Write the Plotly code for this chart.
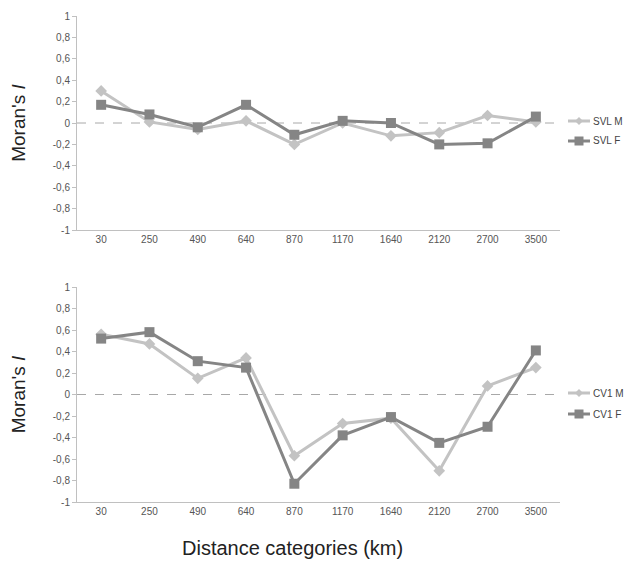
import plotly.graph_objects as go

categories = ["30", "250", "490", "640", "870", "1170", "1640", "2120", "2700", "3500"]
svl_m = [0.30, 0.01, -0.06, 0.02, -0.20, 0.00, -0.12, -0.09, 0.07, 0.01]
svl_f = [0.17, 0.08, -0.04, 0.17, -0.11, 0.02, 0.00, -0.20, -0.19, 0.06]
cv1_m = [0.56, 0.47, 0.15, 0.34, -0.57, -0.27, -0.22, -0.71, 0.08, 0.25]
cv1_f = [0.52, 0.58, 0.31, 0.25, -0.83, -0.38, -0.21, -0.45, -0.30, 0.41]
y_ticks = [1, 0.8, 0.6, 0.4, 0.2, 0, -0.2, -0.4, -0.6, -0.8, -1]
y_tick_labels = ["1", "0,8", "0,6", "0,4", "0,2", "0", "-0,2", "-0,4", "-0,6", "-0,8", "-1"]

LIGHT = "#c3c3c3"
DARK = "#858585"
OFF = 8  # page body margin
W, H = 632 - 2 * OFF, 568 - 2 * OFF

def px(x):
    return (x - OFF) / W

def py(y):
    return 1 - (y - OFF) / H

fig = go.Figure()

def add(name, vals, color, symbol, size, xa, ya):
    fig.add_trace(go.Scatter(
        x=categories, y=vals, name=name, mode="lines+markers",
        line=dict(color=color, width=3),
        marker=dict(symbol=symbol, size=size, color=color),
        xaxis=xa, yaxis=ya, showlegend=False))

add("SVL M", svl_m, LIGHT, "diamond", 9, "x", "y")
add("SVL F", svl_f, DARK, "square", 10, "x", "y")
add("CV1 M", cv1_m, LIGHT, "diamond", 9, "x2", "y2")
add("CV1 F", cv1_f, DARK, "square", 10, "x2", "y2")

xd = [px(77), px(560)]
top_d = [py(230), py(16)]
bot_d = [py(502), py(287)]

tickfont = dict(family="Liberation Sans, Arial", size=10, color="#555555")
xcommon = dict(type="category", range=[-0.5, 9.5], showline=True, linecolor="#c0c0c0",
               linewidth=1, showgrid=False, ticks="", tickfont=tickfont, zeroline=False)
ycommon = dict(range=[-1, 1], tickvals=y_ticks, ticktext=y_tick_labels, showline=True,
               linecolor="#c0c0c0", linewidth=1, showgrid=False, ticks="outside", ticklen=4,
               tickcolor="#c0c0c0", tickfont=tickfont, zeroline=False,
               title=dict(text="Moran's <i>I</i>", standoff=22,
                          font=dict(family="Liberation Sans, Arial", size=19, color="#222222")))

shapes = [
    dict(type="line", xref="x domain", yref="y", x0=0, x1=1, y0=0, y1=0,
         line=dict(color="#a8a8a8", width=1, dash="dash"), layer="below"),
    dict(type="line", xref="x2 domain", yref="y2", x0=0, x1=1, y0=0, y1=0,
         line=dict(color="#a8a8a8", width=1, dash="dash"), layer="below"),
]
annotations = [dict(text="Distance categories (km)", x=px(292), y=py(548),
                    xref="paper", yref="paper", showarrow=False, xanchor="center",
                    yanchor="middle",
                    font=dict(family="Liberation Sans, Arial", size=20, color="#222222"))]

# manual legends (line sample + marker + label)
LX = 568  # left end of legend line sample (page px)
LL = 22   # legend line sample length
legend_items = [("SVL M", LIGHT, "diamond", 121), ("SVL F", DARK, "square", 141),
                ("CV1 M", LIGHT, "diamond", 393), ("CV1 F", DARK, "square", 414)]
for label, color, sym, yy in legend_items:
    shapes.append(dict(type="line", xref="paper", yref="paper", x0=px(LX), x1=px(LX + LL),
                       y0=py(yy), y1=py(yy), line=dict(color=color, width=3)))
    cx, cy = LX + LL / 2, yy
    if sym == "square":
        shapes.append(dict(type="rect", xref="paper", yref="paper",
                           x0=px(cx - 4.5), x1=px(cx + 4.5), y0=py(cy + 4.5), y1=py(cy - 4.5),
                           fillcolor=color, line=dict(width=0)))
    else:
        path = (f"M {px(cx - 4)},{py(cy)} L {px(cx)},{py(cy - 4)} "
                f"L {px(cx + 4)},{py(cy)} L {px(cx)},{py(cy + 4)} Z")
        shapes.append(dict(type="path", xref="paper", yref="paper", path=path,
                           fillcolor=color, line=dict(width=0)))
    annotations.append(dict(text=label, x=px(LX + LL + 1), y=py(yy), xref="paper",
                            yref="paper", showarrow=False, xanchor="left", yanchor="middle",
                            font=dict(family="Liberation Sans, Arial", size=10,
                                      color="#444444")))

fig.update_layout(
    width=W, height=H, margin=dict(l=0, r=0, t=0, b=0, autoexpand=False),
    paper_bgcolor="white", plot_bgcolor="white",
    font=dict(family="Liberation Sans, Arial", color="#444444"),
    xaxis=dict(domain=xd, anchor="y", **xcommon),
    yaxis=dict(domain=top_d, anchor="x", **ycommon),
    xaxis2=dict(domain=xd, anchor="y2", **xcommon),
    yaxis2=dict(domain=bot_d, anchor="x2", **ycommon),
    annotations=annotations,
    shapes=shapes,
)

fig.write_html("out.html")
